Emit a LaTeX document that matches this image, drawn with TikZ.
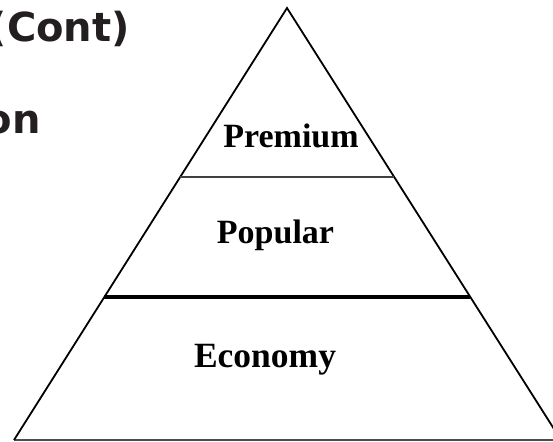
\documentclass[tikz,border=0pt]{standalone}
\usepackage{fontspec}
\usetikzlibrary{calc}
\newfontfamily\tierfont{Liberation Serif}
\newfontfamily\headfont{DejaVu Sans}
\definecolor{inkdark}{HTML}{231F20}
\begin{document}
\begin{tikzpicture}[x=1pt,y=-1pt,
  edge/.style={line width=1.8pt,black},
  thindiv/.style={line width=2pt,black!75},
  thickdiv/.style={line width=3.2pt,black},
  baseline/.style={line width=1.8pt,black!70},
  tier/.style={font=\tierfont\bfseries\fontsize{34}{40}\selectfont,inner sep=0pt,anchor=base},
  head/.style={font=\headfont\bfseries\fontsize{40}{46}\selectfont,text=inkdark,inner sep=0pt,anchor=base east}]
  \useasboundingbox (0,0) rectangle (553,441);
  \clip (0,0) rectangle (553,441);

  % corners of the pyramid
  \coordinate (apex) at (287,8);
  \coordinate (bl) at (14,440);
  \coordinate (br) at (561,440);

  % points on the slanted sides where the tiers meet
  \coordinate (ul) at ($(apex)!0.391!(bl)$);
  \coordinate (ur) at ($(apex)!0.391!(br)$);
  \coordinate (ll) at ($(apex)!0.669!(bl)$);
  \coordinate (lr) at ($(apex)!0.669!(br)$);

  % heading fragments at the top left
  \node[head] (cont) at (130,42) {(Cont)};
  \node[head] (on) at (41,133) {on};

  % pyramid outline
  \draw[baseline] (bl) -- (br);
  \draw[edge,line join=miter] (bl) -- (apex) -- (br);

  % tier dividers
  \draw[thindiv] (ul) -- (ur);
  \draw[thickdiv] (ll) -- (lr);

  % tier labels
  \node[tier] (premium) at (291,147) {Premium};
  \node[tier] (popular) at (275.5,243) {Popular};
  \node[tier,font=\tierfont\bfseries\fontsize{35.5}{40}\selectfont] (economy) at (265,367) {Economy};
\end{tikzpicture}
\end{document}
